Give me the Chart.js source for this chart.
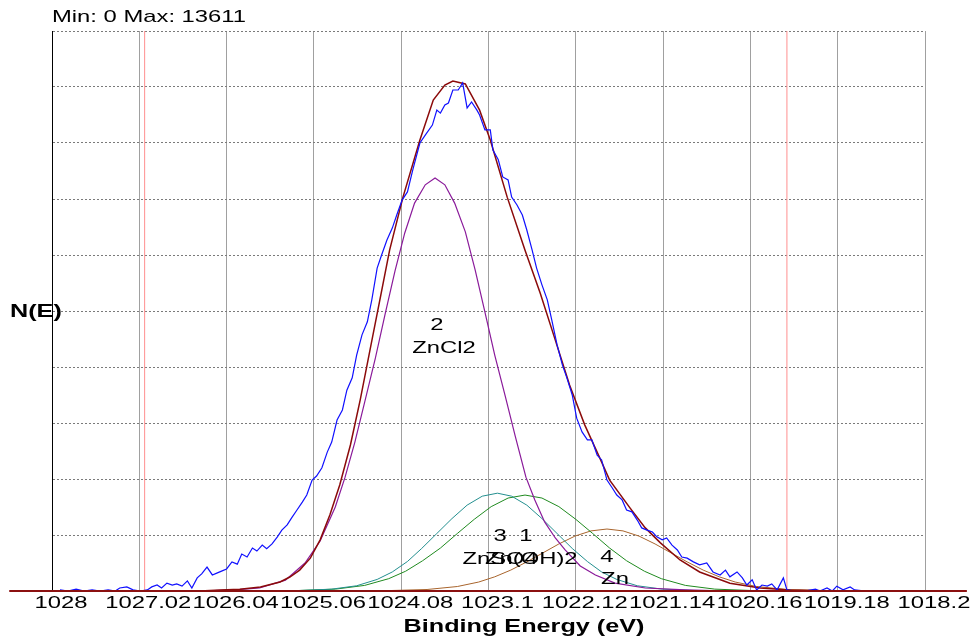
<!DOCTYPE html>
<html>
<head>
<meta charset="utf-8">
<title>Zn 2p3/2 fit</title>
<script src="https://cdn.jsdelivr.net/npm/chart.js@4.4.1/dist/chart.umd.min.js"></script>
<style>
    html, body { margin: 0; padding: 0; background: #fff; }
    canvas { display: block; }
</style>
</head>
<body>
<canvas id="xpsChart" width="974" height="639"></canvas>
<script>
// axis ticks
const xTicks = [1028, 1027.02, 1026.04, 1025.06, 1024.08, 1023.1, 1022.12, 1021.14, 1020.16, 1019.18, 1018.2];
const xTickLabels = ['1028', '1027.02', '1026.04', '1025.06', '1024.08', '1023.1', '1022.12', '1021.14', '1020.16', '1019.18', '1018.2'];
const yTicks = [0, 1500, 3000, 4500, 6000, 7500, 9000, 10500, 12000, 13500, 15000];

// measured spectrum (blue)
const rawEnergy = [1027.91, 1027.82, 1027.73, 1027.64, 1027.55, 1027.46, 1027.37, 1027.29, 1027.24, 1027.16,
    1027.09, 1027.01, 1026.93, 1026.88, 1026.82, 1026.77, 1026.71, 1026.65, 1026.60, 1026.54,
    1026.48, 1026.43, 1026.37, 1026.32, 1026.26, 1026.20, 1026.15, 1026.09, 1026.04, 1025.98,
    1025.92, 1025.87, 1025.81, 1025.75, 1025.70, 1025.64, 1025.59, 1025.53, 1025.47, 1025.42,
    1025.36, 1025.31, 1025.25, 1025.19, 1025.14, 1025.08, 1025.03, 1024.97, 1024.91, 1024.86,
    1024.80, 1024.74, 1024.69, 1024.63, 1024.58, 1024.52, 1024.46, 1024.41, 1024.35, 1024.30,
    1024.24, 1024.18, 1024.13, 1024.07, 1024.01, 1023.95, 1023.87, 1023.81, 1023.73, 1023.68,
    1023.64, 1023.59, 1023.55, 1023.50, 1023.44, 1023.39, 1023.34, 1023.29, 1023.23, 1023.20,
    1023.14, 1023.08, 1023.05, 1022.99, 1022.94, 1022.88, 1022.84, 1022.78, 1022.72, 1022.67,
    1022.61, 1022.56, 1022.50, 1022.44, 1022.39, 1022.33, 1022.27, 1022.22, 1022.16, 1022.11,
    1022.05, 1021.99, 1021.94, 1021.88, 1021.83, 1021.77, 1021.71, 1021.66, 1021.60, 1021.55,
    1021.49, 1021.43, 1021.38, 1021.32, 1021.26, 1021.21, 1021.15, 1021.10, 1021.04, 1020.98,
    1020.93, 1020.87, 1020.80, 1020.73, 1020.65, 1020.58, 1020.50, 1020.44, 1020.39, 1020.31,
    1020.25, 1020.20, 1020.14, 1020.09, 1020.03, 1019.97, 1019.92, 1019.86, 1019.79, 1019.75,
    1019.66, 1019.55, 1019.43, 1019.38, 1019.30, 1019.24, 1019.19, 1019.12, 1019.04, 1018.99,
    1018.87, 1018.70, 1018.48, 1018.21];
const rawCounts = [30, 0, 50, 0, 30, 0, 30, 0, 80, 110,
    30, 0, 30, 110, 160, 80, 210, 160, 190, 130,
    270, 80, 350, 460, 640, 430, 480, 540, 590, 780,
    720, 990, 910, 1150, 1070, 1230, 1130, 1260, 1450, 1630,
    1770, 1960, 2170, 2380, 2570, 2970, 3080, 3300, 3720, 3990,
    4580, 4850, 5380, 5710, 6320, 6860, 7210, 7800, 8650, 9000,
    9400, 9720, 10070, 10470, 10690, 11280, 12000, 12210, 12480, 12880,
    12800, 13020, 13070, 13420, 13420, 13611, 12940, 13100, 12880, 12750,
    12350, 12350, 11810, 11550, 11090, 11010, 10550, 10340, 10070, 9670,
    9130, 8650, 8200, 7800, 7260, 6590, 6050, 5710, 5250, 4630,
    4260, 4050, 4050, 3640, 3510, 2970, 2760, 2570, 2440, 2170,
    2120, 1900, 1690, 1630, 1580, 1450, 1370, 1420, 1230, 1100,
    910, 880, 780, 700, 750, 510, 430, 560, 380, 510,
    350, 160, 300, 30, 160, 130, 190, 30, 350, 30,
    0, 0, 50, 0, 80, 0, 130, 30, 110, 30,
    0, 0, 0, 0];

// fit envelope (dark red)
const envEnergy = [1026.34, 1026.11, 1025.89, 1025.66, 1025.44, 1025.33, 1025.22, 1025.10, 1024.99, 1024.88,
    1024.77, 1024.65, 1024.54, 1024.43, 1024.32, 1024.21, 1024.06, 1023.87, 1023.72, 1023.59,
    1023.50, 1023.36, 1023.20, 1023.08, 1022.89, 1022.69, 1022.52, 1022.35, 1022.19, 1022.02,
    1021.85, 1021.74, 1021.51, 1021.34, 1021.17, 1020.95, 1020.73, 1020.39, 1020.05, 1019.72, 1019.27];
const envCounts = [0, 30, 50, 110, 240, 375, 560, 880, 1370, 2040,
    2840, 3910, 5120, 6460, 7790, 9130, 10550, 12080, 13150, 13550,
    13660, 13580, 12880, 12080, 10550, 9130, 7980, 6720, 5520, 4450,
    3560, 2970, 2220, 1690, 1290, 830, 510, 210, 80, 30, 0];

// component 2 - ZnCl2 (purple)
const zncl2Energy = [1026.34, 1025.95, 1025.67, 1025.38, 1025.16, 1024.99, 1024.82, 1024.71, 1024.60, 1024.49,
    1024.37, 1024.26, 1024.15, 1024.04, 1023.93, 1023.81, 1023.70, 1023.59, 1023.48, 1023.36,
    1023.25, 1023.14, 1023.03, 1022.91, 1022.80, 1022.68, 1022.58, 1022.47, 1022.35, 1022.24,
    1022.07, 1021.90, 1021.68, 1021.34, 1020.89, 1020.39];
const zncl2Counts = [0, 30, 80, 290, 750, 1340, 2250, 3050, 3990, 5060,
    6240, 7420, 8570, 9590, 10390, 10880, 11060, 10880, 10390, 9620,
    8600, 7470, 6320, 5200, 4150, 3050, 2440, 1850, 1420, 1100,
    670, 430, 210, 80, 30, 0];

// component 3 - ZnSO4 (teal)
const znso4Energy = [1025.25, 1024.86, 1024.58, 1024.35, 1024.18, 1024.01, 1023.85, 1023.68, 1023.51, 1023.34,
    1023.17, 1023.00, 1022.84, 1022.67, 1022.50, 1022.33, 1022.16, 1021.99, 1021.83, 1021.66,
    1021.43, 1021.15, 1020.76];
const znso4Counts = [10, 50, 140, 310, 510, 790, 1140, 1540, 1940, 2300,
    2540, 2620, 2540, 2300, 1940, 1540, 1140, 790, 510, 310,
    140, 50, 10];

// component 1 - Zn(OH)2 (green)
const znoh2Energy = [1025.27, 1024.82, 1024.49, 1024.22, 1024.03, 1023.84, 1023.64, 1023.45, 1023.26, 1023.07,
    1022.88, 1022.69, 1022.50, 1022.31, 1022.12, 1021.93, 1021.74, 1021.55, 1021.35, 1021.16,
    1020.89, 1020.56, 1020.11];
const znoh2Counts = [10, 50, 150, 330, 530, 810, 1150, 1540, 1920, 2260,
    2490, 2570, 2490, 2260, 1920, 1540, 1150, 810, 530, 330,
    150, 50, 10];

// component 4 - Zn metal (brown)
const znEnergy = [1024.24, 1023.79, 1023.45, 1023.21, 1023.03, 1022.85, 1022.67, 1022.49, 1022.31, 1022.13,
    1021.95, 1021.77, 1021.59, 1021.41, 1021.23, 1021.05, 1020.87, 1020.69, 1020.51, 1020.33,
    1020.09, 1019.75, 1019.30];
const znCounts = [10, 40, 120, 240, 380, 560, 780, 1020, 1260, 1470,
    1610, 1660, 1610, 1470, 1260, 1020, 780, 560, 380, 240,
    120, 40, 10];

// background region limits and baseline
const regionLimits = [1026.96, 1019.75];
const baselineEnergy = [1028.48, 1017.73];
const baselineCounts = [0, 0];

const FONT = 'Arial, "Liberation Sans", sans-serif';
const STRETCH = 1.4; // 原图文字是横向拉宽的

// peak labels (number on top, species below)
const peakLabels = [
    { text: '2', x: 1023.68, y: 7125 },
    { text: 'ZnCl2', x: 1023.60, y: 6509 },
    { text: '3', x: 1022.97, y: 1473 },
    { text: 'ZnSO4', x: 1022.97, y: 857 },
    { text: '1', x: 1022.68, y: 1473 },
    { text: 'Zn(OH)2', x: 1022.62, y: 857 },
    { text: '4', x: 1021.77, y: 911 },
    { text: 'Zn', x: 1021.68, y: 321 }
];

function toPoints(xs, ys) {
    return xs.map((v, i) => ({ x: v, y: ys[i] }));
}

function line(data, color, width, order, extra) {
    return Object.assign({
        data: data,
        borderColor: color,
        borderWidth: width,
        pointRadius: 0,
        tension: 0,
        fill: false,
        order: order
    }, extra || {});
}

// 横向拉伸的文字
function wideText(ctx, text, x, y, align, font) {
    ctx.save();
    ctx.font = font;
    ctx.textAlign = align;
    ctx.textBaseline = 'middle';
    ctx.fillStyle = '#000';
    ctx.translate(x, y);
    ctx.scale(STRETCH, 1);
    ctx.fillText(text, 0, 0);
    ctx.restore();
}

const textPlugin = {
    id: 'xpsText',
    afterDraw(chart) {
        const { ctx, chartArea } = chart;
        const xs = chart.scales.x;
        const ys = chart.scales.y;

        wideText(ctx, 'Min: 0 Max: ' + Math.max(...rawCounts), chartArea.left, 17, 'left', '17px ' + FONT);
        wideText(ctx, 'N(E)', 10, ys.getPixelForValue(7500) + 1, 'left', 'bold 18px ' + FONT);
        wideText(ctx, 'Binding Energy (eV)', 524, 627, 'center', 'bold 18px ' + FONT);

        // x tick labels
        xTicks.forEach((v, i) => {
            wideText(ctx, xTickLabels[i], xs.getPixelForValue(v) + 9, chartArea.bottom + 12, 'center', '17px ' + FONT);
        });

        peakLabels.forEach(l => {
            wideText(ctx, l.text, xs.getPixelForValue(l.x), ys.getPixelForValue(l.y), 'center', '17px ' + FONT);
        });
    }
};

const ctx = document.getElementById('xpsChart').getContext('2d');

new Chart(ctx, {
    type: 'line',
    data: {
        datasets: [
            line(toPoints(baselineEnergy, baselineCounts), '#8b1010', 2, 0, { clip: false }),
            line(toPoints(rawEnergy, rawCounts), '#1010ff', 1.2, 1),
            line(toPoints(envEnergy, envCounts), '#8b0a0a', 1.5, 2),
            line(toPoints(zncl2Energy, zncl2Counts), '#8a1a9a', 1.2, 3),
            line(toPoints(znso4Energy, znso4Counts), '#238f8f', 1, 4),
            line(toPoints(znoh2Energy, znoh2Counts), '#1f8a1f', 1, 5),
            line(toPoints(znEnergy, znCounts), '#a8642c', 1, 6),
            line([{ x: regionLimits[0], y: 0 }, { x: regionLimits[0], y: 15000 }], '#ff8f8f', 1, 7),
            line([{ x: regionLimits[1], y: 0 }, { x: regionLimits[1], y: 15000 }], '#ff8f8f', 1, 8)
        ]
    },
    options: {
        responsive: false,
        devicePixelRatio: 1,
        animation: false,
        events: [],
        layout: {
            padding: { left: 52, right: 49, top: 31, bottom: 0 }
        },
        plugins: {
            legend: { display: false },
            tooltip: { enabled: false }
        },
        scales: {
            x: {
                type: 'linear',
                reverse: true,
                min: 1018.2,
                max: 1028,
                afterBuildTicks: s => { s.ticks = xTicks.map(v => ({ value: v })); },
                afterFit: s => { s.height = 48; s.paddingLeft = 0; s.paddingRight = 0; },
                grid: {
                    color: c => (c.tick && c.tick.value === 1028) ? '#000' : '#a0a0a0',
                    lineWidth: 1,
                    drawTicks: false
                },
                border: { display: false },
                ticks: { display: false }
            },
            y: {
                type: 'linear',
                min: 0,
                max: 15000,
                afterBuildTicks: s => { s.ticks = yTicks.map(v => ({ value: v })); },
                afterFit: s => { s.width = 0; },
                grid: { color: '#7a7a7a', lineWidth: 1, drawTicks: false },
                border: { display: true, color: '#000', width: 1, dash: [2, 2] },
                ticks: { display: false }
            }
        }
    },
    plugins: [textPlugin]
});
</script>
</body>
</html>
